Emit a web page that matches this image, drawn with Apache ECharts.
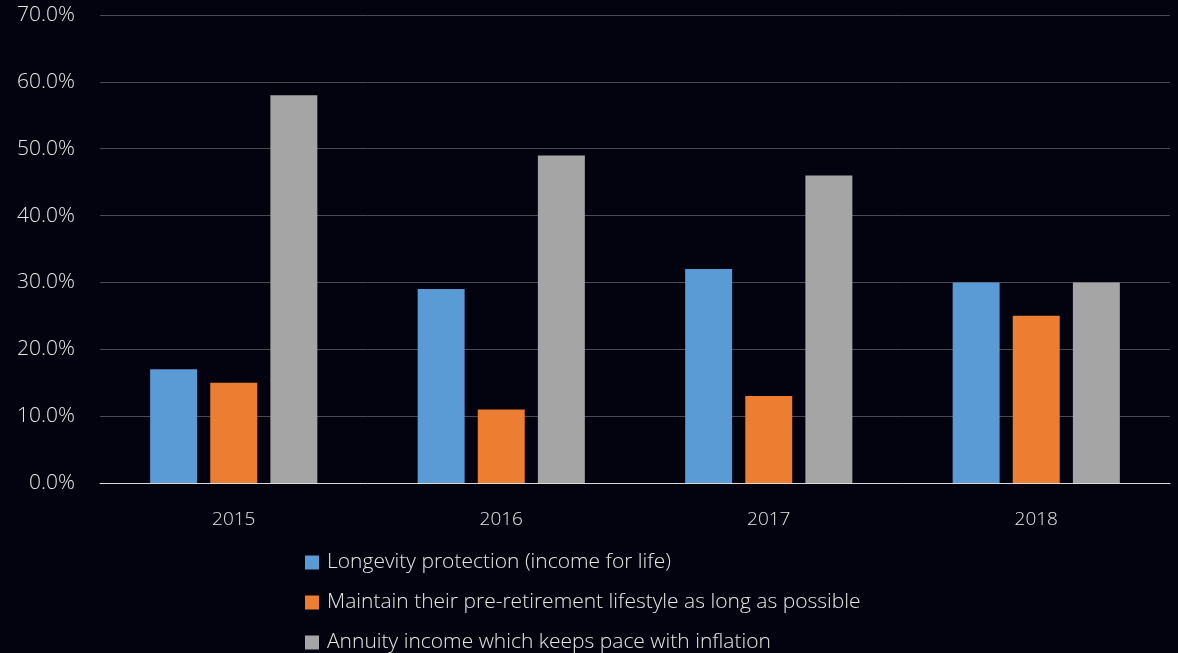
<!DOCTYPE html>
<html>
<head>
<meta charset="utf-8">
<script src="https://cdn.jsdelivr.net/npm/echarts@6/dist/echarts.min.js"></script>
<style>
html,body{margin:0;padding:0;background:#03030f;}
#chart{width:1178px;height:653px;}
</style>
</head>
<body>
<div id="chart"></div>
<script>
const categories = ['2015', '2016', '2017', '2018'];
const seriesNames = [
  'Longevity protection (income for life)',
  'Maintain their pre-retirement lifestyle as long as possible',
  'Annuity income which keeps pace with inflation'
];
const longevity = [17, 29, 32, 30];
const lifestyle = [15, 11, 13, 25];
const inflation = [58, 49, 46, 30];
const colors = ['#5b9bd5', '#ed7d31', '#a5a5a5'];

const font = 'Open Sans';
const chart = echarts.init(document.getElementById('chart'));
const values = [longevity, lifestyle, inflation];
chart.setOption({
  backgroundColor: '#03030f',
  animation: false,
  grid: {left: 100, right: 8, top: 15, bottom: 170},
  legend: {
    orient: 'vertical',
    left: 305,
    top: 552,
    padding: 0,
    height: 101,
    itemWidth: 14,
    itemHeight: 14,
    itemGap: 19,
    icon: 'rect',
    textStyle: {color: '#e6e6e6', fontSize: 21, lineHeight: 21, fontFamily: font, fontWeight: 300,
      padding: [0, 0, 0, 3]},
    data: seriesNames
  },
  xAxis: {
    type: 'category',
    data: categories,
    axisTick: {show: false},
    axisLine: {lineStyle: {color: '#d9d9d9', width: 1}},
    axisLabel: {color: '#e6e6e6', fontSize: 19, fontFamily: font, fontWeight: 300, margin: 27}
  },
  yAxis: {
    type: 'value',
    min: 0, max: 70, interval: 10,
    axisLine: {show: false},
    axisTick: {show: false},
    splitLine: {lineStyle: {color: '#4a4a55', width: 1}},
    axisLabel: {color: '#e6e6e6', fontSize: 21, fontFamily: font, fontWeight: 300, margin: 25,
      formatter: v => v.toFixed(1) + '%'}
  },
  series: values.map((d, i) => ({
    name: seriesNames[i],
    type: 'bar',
    data: d,
    barGap: '28%',
    barCategoryGap: '37.5%',
    itemStyle: {color: colors[i]}
  }))
});
</script>
</body>
</html>
